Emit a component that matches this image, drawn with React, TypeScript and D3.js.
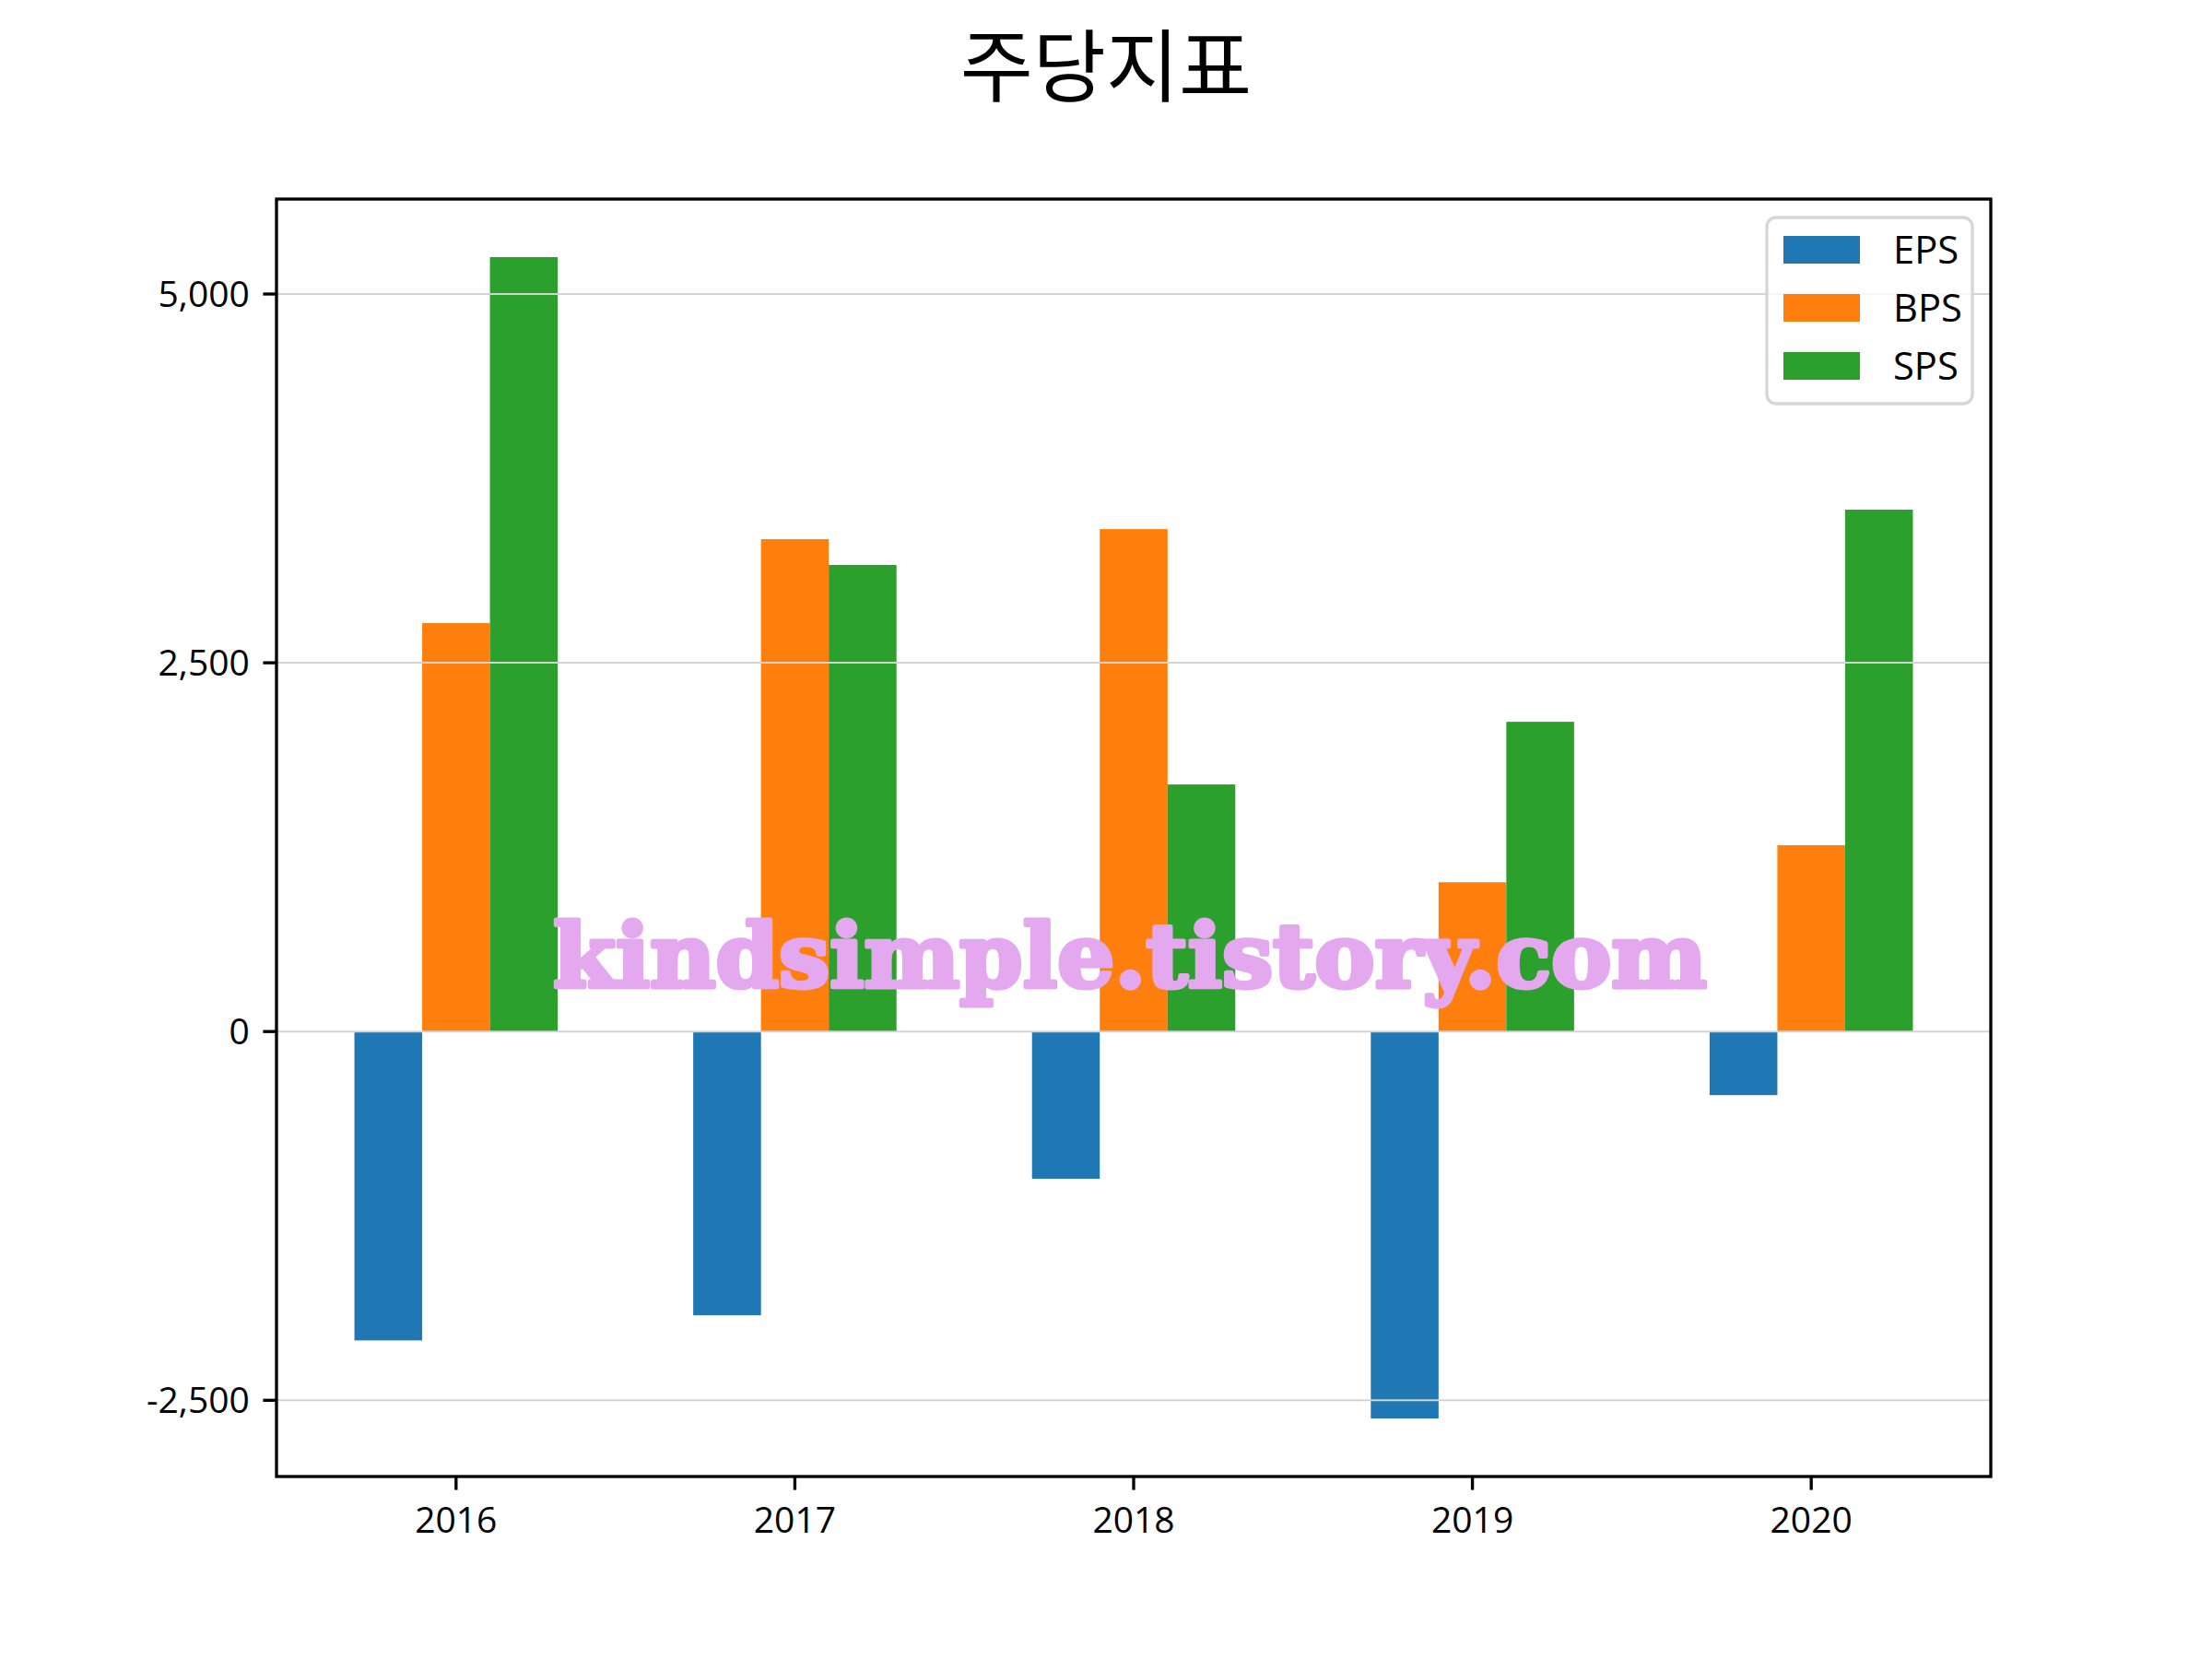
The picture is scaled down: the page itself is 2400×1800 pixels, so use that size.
import * as d3 from 'd3'

const YEARS = ['2016', '2017', '2018', '2019', '2020']
const EPS = [-2094, -1923, -998, -2623, -431]
const BPS = [2769, 3338, 3406, 1012, 1263]
const SPS = [5250, 3163, 1675, 2100, 3538]
const Y_TICKS = [-2500, 0, 2500, 5000]

const SERIES = [
  { name: 'EPS', values: EPS, color: '#1f77b4', offset: -0.2 },
  { name: 'BPS', values: BPS, color: '#ff7f0e', offset: 0 },
  { name: 'SPS', values: SPS, color: '#2ca02c', offset: 0.2 },
]

const W = 2400
const H = 1800
const PT = 300 / 72
const FONT = "'Noto Sans CJK KR', 'Noto Sans', sans-serif"
const LABEL_FONT = "'Open Sans', 'Noto Sans CJK KR', sans-serif"
const BAR_W = 0.2
const AX = { left: 300, right: 2160, top: 216, bottom: 1602 }
const GRID = '#d3d3d3'
const TICK_LEN = 3.5 * PT
const FS = 10 * PT

const fmt = d3.formatLocale({ decimal: '.', thousands: ',', grouping: [3], currency: ['', ''], minus: '-' }).format(',')

export default function App() {
  // matplotlib-like 5% margins on both axes
  const xLo = -0.2 - BAR_W / 2
  const xHi = YEARS.length - 1 + 0.2 + BAR_W / 2
  const xPad = (xHi - xLo) * 0.05
  const x = d3.scaleLinear().domain([xLo - xPad, xHi + xPad]).range([AX.left, AX.right])

  const all = [...EPS, ...BPS, ...SPS]
  const yMax = d3.max(all) ?? 0
  const yMin = d3.min(all) ?? 0
  const yPad = (yMax - yMin) * 0.05
  const y = d3.scaleLinear().domain([yMin - yPad, yMax + yPad]).range([AX.bottom, AX.top])

  const legendX = 1917
  const legendY = 236

  return (
    <div style={{ position: 'absolute', left: 0, top: 0, background: '#fff' }}>
      <svg width={W} height={H} viewBox={`0 0 ${W} ${H}`} style={{ display: 'block' }}>
        <rect width={W} height={H} fill="#fff" />

        {/* title */}
        <text x={W / 2} y={104} textAnchor="middle" fontFamily={FONT} fontSize={86} fill="#000">
          주당지표
        </text>

        {/* bars */}
        {SERIES.map((s) =>
          s.values.map((v, i) => {
            const x0 = x(i + s.offset - BAR_W / 2)
            const x1 = x(i + s.offset + BAR_W / 2)
            const y0 = y(Math.max(0, v))
            const y1 = y(Math.min(0, v))
            return <rect key={s.name + i} x={x0} y={y0} width={x1 - x0} height={y1 - y0} fill={s.color} />
          })
        )}

        {/* horizontal grid, drawn above bars */}
        {Y_TICKS.map((t) => (
          <line key={t} x1={AX.left} x2={AX.right} y1={y(t)} y2={y(t)} stroke={GRID} strokeWidth={2} />
        ))}

        {/* watermark */}
        <text
          x={600}
          y={1071}
          fontFamily="'DejaVu Serif', 'Liberation Serif', serif"
          fontWeight="bold"
          fontSize={96}
          fill="#e4a8ef"
          stroke="#e4a8ef"
          strokeWidth={5}
          strokeLinejoin="round"
          textLength={1252}
          lengthAdjust="spacingAndGlyphs"
        >
          kindsimple.tistory.com
        </text>

        {/* y ticks */}
        {Y_TICKS.map((t) => (
          <g key={'yt' + t}>
            <line x1={AX.left - TICK_LEN} x2={AX.left} y1={y(t)} y2={y(t)} stroke="#000" strokeWidth={0.8 * PT} />
            <text
              x={AX.left - TICK_LEN - 3.5 * PT}
              y={y(t)}
              dy="0.35em"
              textAnchor="end"
              fontFamily={LABEL_FONT}
              fontSize={39}
              fill="#000"
            >
              {fmt(t)}
            </text>
          </g>
        ))}

        {/* x ticks */}
        {YEARS.map((yr, i) => (
          <g key={yr}>
            <line x1={x(i)} x2={x(i)} y1={AX.bottom} y2={AX.bottom + TICK_LEN} stroke="#000" strokeWidth={0.8 * PT} />
            <text x={x(i)} y={1663} textAnchor="middle" fontFamily={LABEL_FONT} fontSize={39} fill="#000">
              {yr}
            </text>
          </g>
        ))}

        {/* spines */}
        <rect
          x={AX.left}
          y={AX.top}
          width={AX.right - AX.left}
          height={AX.bottom - AX.top}
          fill="none"
          stroke="#000"
          strokeWidth={0.8 * PT}
        />

        {/* legend */}
        <g transform={`translate(${legendX},${legendY})`}>
          <rect
            x={0}
            y={0}
            width={223}
            height={202}
            rx={10}
            fill="#fff"
            fillOpacity={0.8}
            stroke="#d6d6d6"
            strokeWidth={0.8 * PT}
          />
          {SERIES.map((s, i) => (
            <g key={s.name} transform={`translate(0,${20 + i * 63})`}>
              <rect x={18} y={0} width={83} height={30} fill={s.color} />
              <text x={137} y={30} fontFamily={LABEL_FONT} fontSize={FS} fill="#000">
                {s.name}
              </text>
            </g>
          ))}
        </g>
      </svg>
    </div>
  )
}
